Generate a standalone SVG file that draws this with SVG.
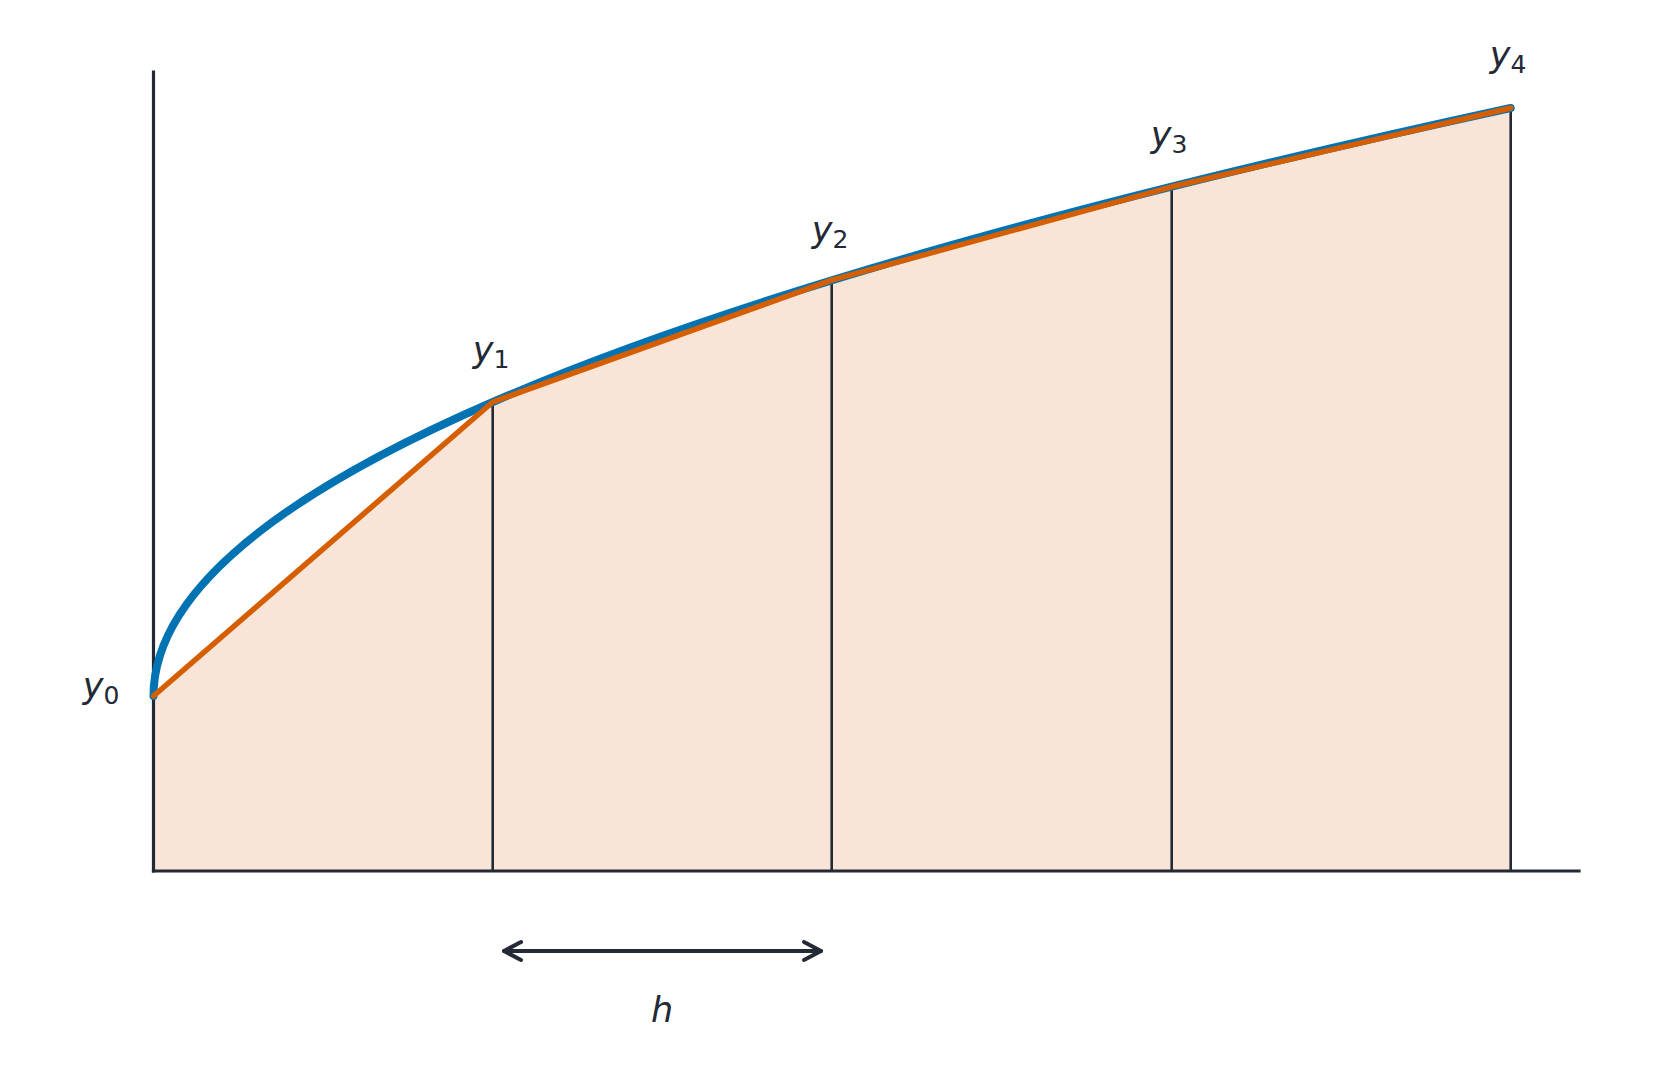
<svg xmlns="http://www.w3.org/2000/svg" width="1665" height="1088" viewBox="0 0 1665 1088">
<style>
.ax{stroke:#232935;stroke-width:3.2;fill:none;stroke-linecap:square}
.grid{stroke:#232935;stroke-width:2.6;fill:none}
.lbl{font-family:"DejaVu Sans",sans-serif;font-style:italic;font-size:35px;fill:#232935;text-anchor:middle}
.sub{font-style:normal;font-size:25px}
</style>
<rect width="1665" height="1088" fill="#ffffff"/>
<g id="area">
<polygon points="153.5,871 153.5,696 492.7,402 831.7,280.2 1171.7,186.8 1510.7,108 1510.7,871" fill="#f8e5d8"/>
</g>
<g id="gridlines">
<line class="grid" x1="492.7" y1="871" x2="492.7" y2="402"/>
<line class="grid" x1="831.7" y1="871" x2="831.7" y2="280.2"/>
<line class="grid" x1="1171.7" y1="871" x2="1171.7" y2="186.8"/>
<line class="grid" x1="1510.7" y1="871" x2="1510.7" y2="108"/>
</g>
<g id="axes">
<line class="ax" x1="153.5" y1="72" x2="153.5" y2="871"/>
<line class="ax" x1="153.5" y1="871" x2="1579" y2="871"/>
</g>
<g id="curve">
<path d="M153.5,696 Q153.5,402 1510.7,108" fill="none" stroke="#0173b2" stroke-width="8" stroke-linecap="round"/>
</g>
<g id="chords">
<polyline points="153.5,696 492.7,402 831.7,280.2 1171.7,186.8 1510.7,108" fill="none" stroke="#d55e00" stroke-width="5.5" stroke-linecap="round" stroke-linejoin="round"/>
</g>
<g id="connectors">
<line x1="504" y1="951" x2="821" y2="951" stroke="#232935" stroke-width="4" stroke-linecap="round"/>
<polyline points="521,942 504,951 521,960" fill="none" stroke="#232935" stroke-width="4" stroke-linecap="round" stroke-linejoin="round"/>
<polyline points="804,942 821,951 804,960" fill="none" stroke="#232935" stroke-width="4" stroke-linecap="round" stroke-linejoin="round"/>
</g>
<g id="labels">
<text class="lbl" x="101" y="698">y<tspan class="sub" dy="6">0</tspan></text>
<text class="lbl" x="491" y="362">y<tspan class="sub" dy="6">1</tspan></text>
<text class="lbl" x="830" y="242">y<tspan class="sub" dy="6">2</tspan></text>
<text class="lbl" x="1169" y="147">y<tspan class="sub" dy="6">3</tspan></text>
<text class="lbl" x="1508" y="67">y<tspan class="sub" dy="6">4</tspan></text>
<text class="lbl" x="662" y="1022">h</text>
</g>
</svg>
